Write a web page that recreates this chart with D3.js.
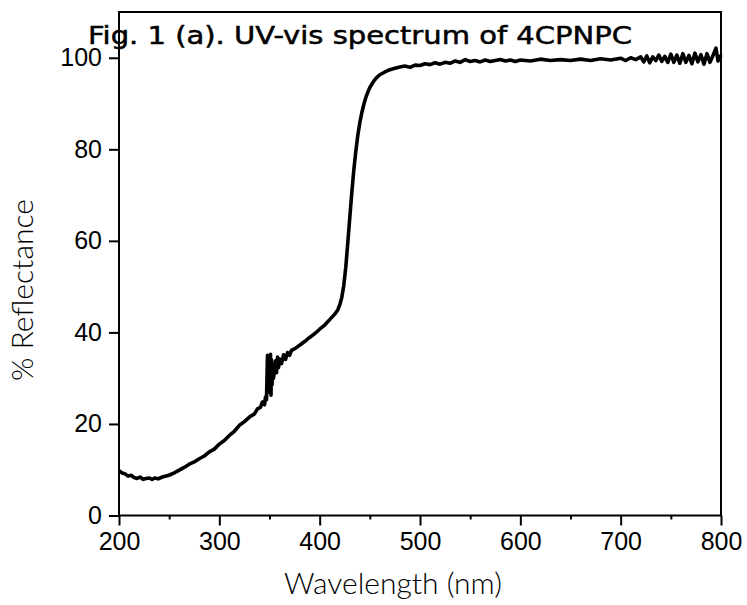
<!DOCTYPE html>
<html>
<head>
<meta charset="utf-8">
<script src="https://cdn.jsdelivr.net/npm/d3@7"></script>
<style>
  body { margin: 0; background: #fff; }
  svg { display: block; }
</style>
</head>
<body>
<div id="chart"></div>
<script>
  // values
  var wavelength = [
    200, 203, 206, 209, 212, 215, 218, 221, 224, 227, 230, 233, 236, 239, 242, 245, 248, 251, 255, 260,
    265, 270, 275, 280, 285, 290, 295, 300, 305, 310, 315, 320, 325, 330, 335, 338, 341, 343, 345, 346,
    347, 348, 348.5, 349, 349.5, 350, 351, 351.5, 352, 352.5, 353, 354, 355, 356, 357, 358, 359, 360, 362, 364,
    366, 368, 370, 372, 375, 380, 385, 390, 395, 400, 405, 410, 415, 418, 420, 422, 424, 426, 428, 430,
    432, 434, 436, 438, 440, 442, 444, 446, 448, 450, 453, 456, 460, 465, 470, 475, 480, 485, 490, 495,
    500, 505, 510, 515, 520, 525, 530, 535, 540, 545, 550, 555, 560, 565, 570, 575, 580, 585, 590, 595,
    600, 610, 620, 630, 640, 650, 660, 670, 680, 690, 700, 705, 710, 715, 720, 723, 726, 729, 732, 735,
    738, 741, 744, 747, 750, 753, 756, 759, 762, 765, 768, 771, 774, 777, 780, 783, 786, 789, 792, 795,
    797, 800
  ];
  var reflectance = [
    9.8, 9.3, 9.1, 8.6, 8.8, 8.3, 8.1, 8.4, 7.9, 8.1, 8.2, 7.9, 8.2, 8.0, 8.3, 8.5, 8.7, 8.9, 9.3, 9.9,
    10.5, 11.2, 11.7, 12.4, 13.0, 13.9, 14.5, 15.6, 16.4, 17.5, 18.4, 19.7, 20.5, 21.5, 22.2, 23.3, 23.6, 24.8, 24.2, 25.9,
    25.3, 35.0, 27.0, 34.0, 27.8, 31.5, 35.2, 26.3, 34.0, 28.5, 32.8, 30.0, 32.0, 33.8, 31.2, 34.6, 32.3, 34.2, 33.2, 35.1,
    34.1, 35.6, 35.0, 36.1, 36.4, 37.2, 38.0, 38.9, 39.7, 40.7, 41.6, 42.8, 44.0, 44.9, 46.0, 47.6, 50.2, 54.2, 59.5, 65.0,
    70.5, 75.4, 79.5, 83.0, 85.8, 88.0, 89.8, 91.3, 92.5, 93.5, 94.6, 95.5, 96.3, 96.9, 97.4, 97.7, 98.0, 98.2, 97.9, 98.4,
    98.3, 98.7, 98.5, 98.9, 98.6, 99.0, 98.8, 99.3, 99.0, 99.6, 99.2, 99.4, 99.1, 99.5, 99.2, 99.4, 99.6, 99.3, 99.5, 99.2,
    99.5, 99.3, 99.7, 99.4, 99.6, 99.4, 99.7, 99.4, 99.8, 99.5, 99.9, 99.4, 100.0, 99.6, 100.2, 99.1, 100.4, 98.9, 100.2, 99.4,
    100.6, 99.2, 100.3, 99.0, 100.8, 99.0, 100.6, 98.8, 100.9, 99.0, 100.5, 98.7, 101.0, 99.1, 100.7, 98.6, 100.9, 99.0, 100.5, 102.1,
    99.3, 100.6
  ];
  var xTicks = [200, 300, 400, 500, 600, 700, 800];
  var xMinor = [250, 350, 450, 550, 650, 750];
  var yTicks = [0, 20, 40, 60, 80, 100];

  var W = 747, H = 605;
  var plotL = 119, plotR = 721, plotT = 12, plotB = 515.5;

  var svg = d3.select("#chart")
    .append("svg")
      .attr("width", W)
      .attr("height", H);

  var x = d3.scaleLinear()
    .domain([200, 800])
    .range([plotL, plotR]);

  var y = d3.scaleLinear()
    .domain([0, 110])
    .range([plotB, plotT]);

  // frame
  svg.append("rect")
    .attr("x", plotL)
    .attr("y", plotT)
    .attr("width", plotR - plotL)
    .attr("height", plotB - plotT)
    .attr("fill", "none")
    .attr("stroke", "#000")
    .attr("stroke-width", 2);

  // minor x ticks
  svg.append("g")
    .attr("transform", "translate(0," + plotB + ")")
    .call(d3.axisBottom(x).tickValues(xMinor).tickSize(4).tickFormat(""))
    .call(g => g.select(".domain").remove())
    .selectAll("line").attr("stroke-width", 2);

  var xAxis = svg.append("g")
    .attr("transform", "translate(0," + plotB + ")")
    .call(d3.axisBottom(x).tickValues(xTicks).tickSize(10).tickPadding(7));
  xAxis.select(".domain").remove();
  xAxis.selectAll("line").attr("stroke-width", 2);
  xAxis.selectAll("text")
    .attr("font-family", "'Liberation Sans', Arial, sans-serif")
    .attr("font-size", 25)
    .attr("fill", "#000");

  var yAxis = svg.append("g")
    .attr("transform", "translate(" + plotL + ",0)")
    .call(d3.axisLeft(y).tickValues(yTicks).tickSize(10).tickPadding(7));
  yAxis.select(".domain").remove();
  yAxis.selectAll("line").attr("stroke-width", 2);
  yAxis.selectAll("text")
    .attr("font-family", "'Liberation Sans', Arial, sans-serif")
    .attr("font-size", 25)
    .attr("fill", "#000");

  // spectrum
  var pts = wavelength.map(function (w, i) { return [w, reflectance[i]]; });
  svg.append("path")
    .datum(pts)
    .attr("fill", "none")
    .attr("stroke", "#000")
    .attr("stroke-width", 3.6)
    .attr("stroke-linejoin", "round")
    .attr("d", d3.line().x(d => x(d[0])).y(d => y(d[1])));

  // titles
  svg.append("text")
    .attr("x", 393)
    .attr("y", 594)
    .attr("text-anchor", "middle")
    .attr("font-family", "Lato, 'Open Sans', sans-serif")
    .attr("font-weight", 300)
    .attr("font-size", 30)
    .attr("fill", "#000")
    .text("Wavelength (nm)");

  svg.append("text")
    .attr("transform", "translate(33,290) rotate(-90)")
    .attr("text-anchor", "middle")
    .attr("font-family", "Lato, 'Open Sans', sans-serif")
    .attr("font-weight", 300)
    .attr("font-size", 30)
    .attr("fill", "#000")
    .text("% Reflectance");

  svg.append("text")
    .attr("x", 88)
    .attr("y", 44)
    .attr("font-family", "'DejaVu Sans', 'Noto Sans', sans-serif")
    .attr("font-size", 24)
    .attr("fill", "#000")
    .attr("stroke", "#000")
    .attr("stroke-width", 0.5)
    .attr("textLength", 544)
    .attr("lengthAdjust", "spacingAndGlyphs")
    .text("Fig. 1 (a). UV-vis spectrum of 4CPNPC");
</script>
</body>
</html>
